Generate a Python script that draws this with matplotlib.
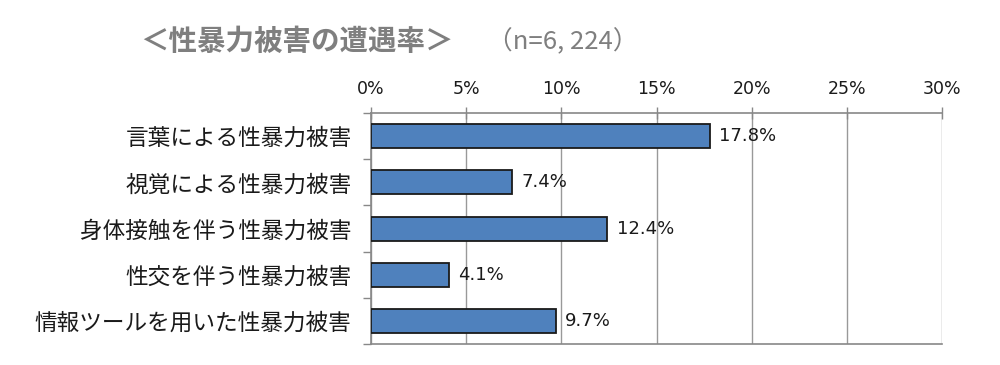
import matplotlib
matplotlib.use("Agg")
import matplotlib.pyplot as plt
import numpy as np

plt.rcParams['font.family'] = ['Noto Sans CJK JP', 'DejaVu Sans']

categories = ["言葉による性暴力被害", "視覚による性暴力被害", "身体接触を伴う性暴力被害",
              "性交を伴う性暴力被害", "情報ツールを用いた性暴力被害"]
values = [17.8, 7.4, 12.4, 4.1, 9.7]
value_labels = ["17.8%", "7.4%", "12.4%", "4.1%", "9.7%"]
xticks = [0, 5, 10, 15, 20, 25, 30]
xtick_labels = ["0%", "5%", "10%", "15%", "20%", "25%", "30%"]
title = "＜性暴力被害の遭遇率＞"
subtitle = "（n=6, 224）"

fig = plt.figure(figsize=(10, 3.65), dpi=100)
ax = fig.add_axes([0.371, 0.0575, 0.571, 0.6325])

y = np.arange(len(categories))
ax.barh(y, values, height=0.52, color="#4F81BD", edgecolor="#1a1a1a", linewidth=1.3, zorder=3)
for yi, v, lab in zip(y, values, value_labels):
    ax.text(v + 0.5, yi, lab, va="center", ha="left", fontsize=13, color="#1a1a1a",
            family=['DejaVu Sans', 'Noto Sans CJK JP'])

ax.set_xlim(0, 30)
ax.set_ylim(len(categories) - 0.5, -0.5)
ax.xaxis.tick_top()
ax.set_xticks(xticks)
ax.set_xticklabels(xtick_labels, fontsize=12.5, color="#1a1a1a", family=['DejaVu Sans'])
ax.tick_params(axis='x', direction='inout', length=8, width=1, color="#888888", pad=7)
ax.grid(axis='x', color="#999999", linewidth=1, zorder=0)

ax.set_yticks(y)
ax.set_yticklabels(categories, fontsize=16.3, color="#1a1a1a")
ax.tick_params(axis='y', length=0, pad=14)
ax.set_yticks(np.arange(len(categories) + 1) - 0.5, minor=True)
ax.tick_params(axis='y', which='minor', length=6, width=1, color="#888888", direction='out')

for s in ["top", "bottom", "left"]:
    ax.spines[s].set_color("#888888")
    ax.spines[s].set_linewidth(1.2)
ax.spines["right"].set_visible(False)

fig.text(0.14, 0.885, title, fontsize=20.5, fontweight="bold", color="#7f7f7f", va="center", ha="left")
fig.text(0.487, 0.885, subtitle, fontsize=18.5, color="#7f7f7f", va="center", ha="left")

fig.savefig("out.png", dpi=100)
